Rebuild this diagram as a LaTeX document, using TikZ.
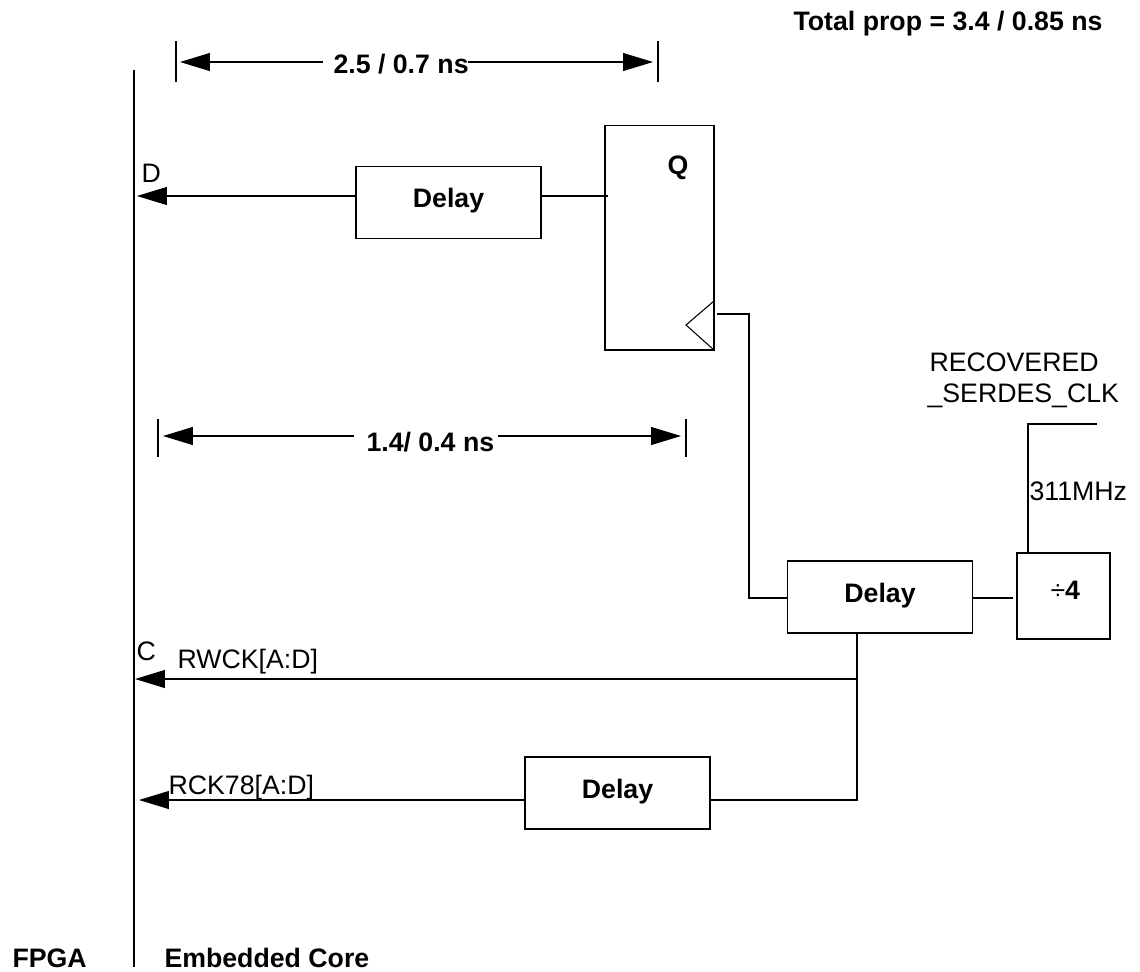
\documentclass[tikz,border=0pt]{standalone}
\usepackage{fontspec}
\setmainfont{Liberation Sans}
\usetikzlibrary{arrows.meta}
\tikzset{
  blk/.style={draw, minimum width=3.7cm, minimum height=1.44cm, inner sep=0pt, text depth=5pt, font=\fontsize{15.2}{18}\selectfont\bfseries},
  lbl/.style={inner sep=0pt, anchor=base west, font=\fontsize{15.2}{18}\selectfont},
  bold/.style={inner sep=0pt, anchor=base west, font=\fontsize{15.2}{18}\selectfont\bfseries},
  sig/.style={-{Triangle[length=0.6cm,width=0.36cm]}},
}
\begin{document}
\begin{tikzpicture}[x=0.02cm, y=-0.02cm, line width=0.6pt, >=stealth]
\useasboundingbox (0,0) rectangle (1140,971);
% boundary
\coordinate (top) at (134,70);
\coordinate (bot) at (134,967);
\draw (top) -- (bot);
\node[bold] (fpga) at (12,967) {FPGA};
\node[bold] (core) at (164,967) {Embedded Core};
\node[bold] (total) at (793,30) {Total prop = 3.4 / 0.85 ns};
% blocks
\node[blk] (d1) at (448.5,202.5) {Delay};
\node[blk] (d2) at (880,597) {Delay};
\node[blk] (d3) at (617.5,793) {Delay};
\node[draw, minimum width=2.18cm, minimum height=4.5cm, inner sep=0pt] (ff) at (659.5,237.5) {};
\node[draw, minimum width=1.86cm, minimum height=1.72cm, inner sep=0pt, font=\fontsize{15.2}{18}\selectfont\bfseries] (div) at (1063.5,596) {\hspace{2pt}\raisebox{6.5pt}{{\mdseries ÷}4}};
\node[inner sep=0pt, font=\fontsize{15.2}{18}\selectfont\bfseries] (q) at (678,168) {Q};
% clock wedge
\coordinate (w1) at (714,301);
\coordinate (w2) at (686,325);
\coordinate (w3) at (714,350);
\draw (w1) -- (w2) -- (w3);
% data path
\coordinate (din) at (608,196);
\coordinate (dend) at (137,196);
\draw (din) -- (d1.east |- din);
\draw[sig] (d1.west |- din) -- (dend);
\node[lbl] (dlab) at (141,182) {D};
% clock path
\coordinate (ckin) at (717,314);
\coordinate (ckc) at (749,314);
\coordinate (ckd) at (749,598);
\coordinate (dq) at (1013,598);
\draw (ckin) -- (ckc) -- (ckd) -- (ckd -| d2.west);
\draw (d2.east |- dq) -- (dq);
% serdes clock
\coordinate (rc1) at (1028,553);
\coordinate (rc2) at (1028,424);
\coordinate (rc3) at (1097,424);
\draw (rc1) -- (rc2) -- (rc3);
\node[lbl] (rec1) at (929,371) {RECOVERED};
\node[lbl] (rec2) at (927,402) {\_SERDES\_CLK};
\node[lbl] (mhz) at (1029,500) {311MHz};
% read clocks
\coordinate (tap) at (857,633);
\coordinate (cj) at (857,679);
\coordinate (cend) at (135,679);
\coordinate (rj) at (857,800);
\coordinate (rend) at (139,800);
\draw[sig] (tap) -- (cj) -- (cend);
\draw (cj) -- (rj) -- (rj -| d3.east);
\draw[sig] (rj -| d3.west) -- (rend);
\node[lbl] (clab) at (136,660) {C};
\node[lbl] (rwck) at (177,668) {RWCK[A:D]};
\node[lbl] (rck) at (168,794) {RCK78[A:D]};
% timing dimensions
\draw (176,41) -- (176,82);
\draw (658,41) -- (658,82);
\draw (158,419) -- (158,457);
\draw (686,419) -- (686,457);
\node[bold] (t1) at (333,73) {2.5 / 0.7 ns};
\node[bold] (t2) at (366,451) {1.4/ 0.4 ns};
\coordinate (a1) at (180,62);
\coordinate (a2) at (653,62);
\coordinate (b1) at (163,436);
\coordinate (b2) at (681,436);
\draw[sig] (323,62) -- (a1);
\draw[sig] (468,62) -- (a2);
\draw[sig] (354,436) -- (b1);
\draw[sig] (498,436) -- (b2);
\end{tikzpicture}
\end{document}
